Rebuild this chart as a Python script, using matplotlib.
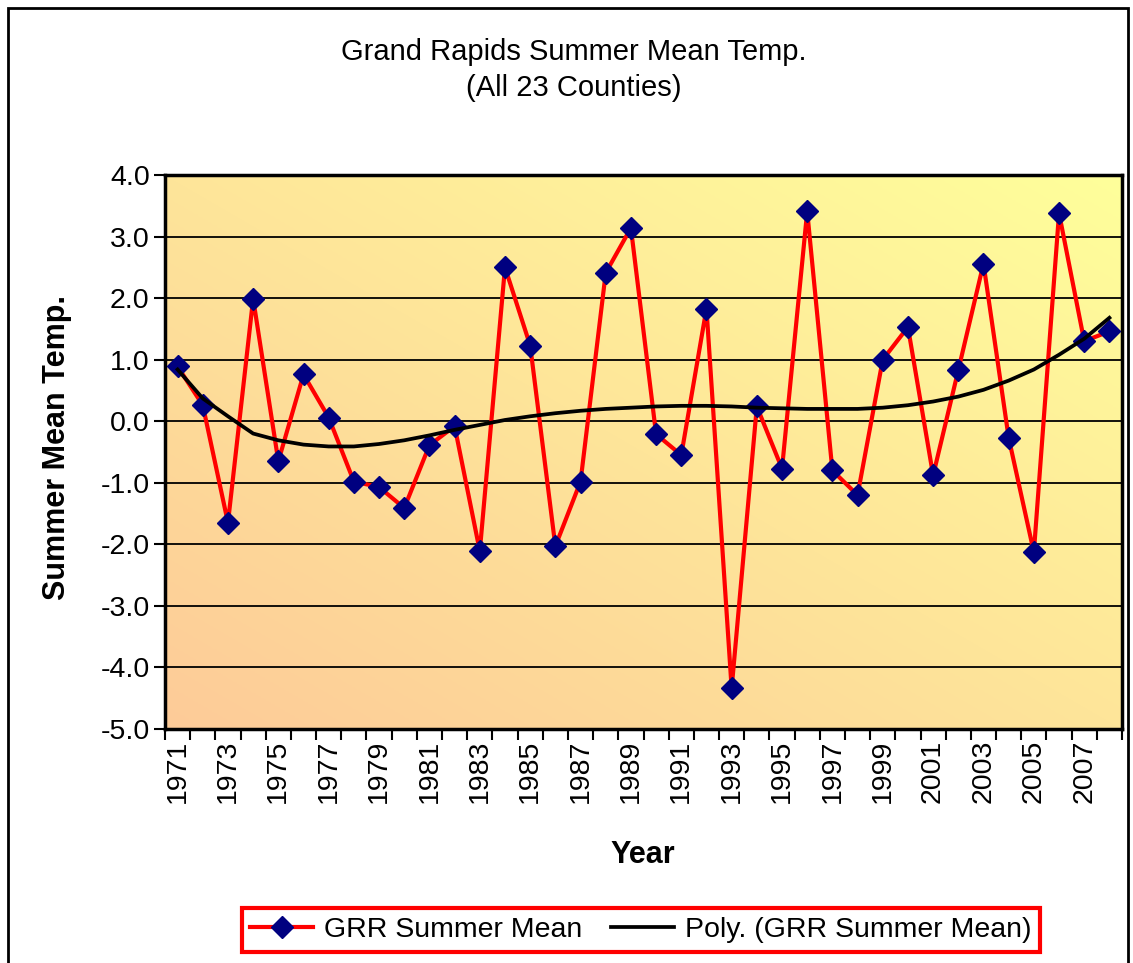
import numpy as np
import matplotlib
matplotlib.use("Agg")
import matplotlib.pyplot as plt
from matplotlib.patches import Rectangle

plt.rcParams['font.family'] = ['Liberation Sans', 'DejaVu Sans']

years = list(range(1971, 2009))
temps = [0.89, 0.26, -1.65, 1.99, -0.65, 0.76, 0.06, -0.98, -1.07, -1.41,
         -0.39, -0.08, -2.11, 2.50, 1.23, -2.03, -0.98, 2.41, 3.14, -0.21,
         -0.55, 1.83, -4.34, 0.24, -0.77, 3.41, -0.80, -1.20, 1.00, 1.53,
         -0.88, 0.83, 2.56, -0.27, -2.13, 3.38, 1.30, 1.46]
trend = [0.84, 0.37, 0.08, -0.20, -0.31, -0.38, -0.41, -0.41, -0.37, -0.31,
         -0.23, -0.14, -0.06, 0.02, 0.08, 0.13, 0.17, 0.20, 0.22, 0.24,
         0.25, 0.25, 0.24, 0.22, 0.21, 0.20, 0.20, 0.20, 0.22, 0.26,
         0.32, 0.40, 0.51, 0.66, 0.84, 1.08, 1.34, 1.68]
year_labels = [str(y) for y in years[::2]]

W, H = 1133, 963
fig = plt.figure(figsize=(W / 100, H / 100), dpi=100)
ax = fig.add_axes([165 / W, 1 - 729 / H, (1122 - 165) / W, (729 - 175) / H])

# diagonal gradient background
c0 = np.array([253, 203, 152]) / 255
c1 = np.array([255, 255, 155]) / 255
gx, gy = np.meshgrid(np.linspace(0, 1, 200), np.linspace(0, 1, 200))
t = ((gx + gy) / 2)[..., None]
grad = c0 * (1 - t) + c1 * t
ax.imshow(grad, extent=[0, 1, 0, 1], transform=ax.transAxes, origin='lower',
          aspect='auto', zorder=-1)

x = np.arange(len(years))
ax.plot(x, temps, color='#FF0000', lw=3, marker='D', ms=11,
        mfc='#000080', mec='#000080', label='GRR Summer Mean', zorder=3)
ax.plot(x, trend, color='black', lw=2.7, label='Poly. (GRR Summer Mean)', zorder=4)

ax.set_xlim(-0.5, len(years) - 0.5)
ax.set_ylim(-5, 4)
ax.set_yticks(np.arange(-5, 5, 1))
ax.set_yticklabels(['%.1f' % v for v in np.arange(-5, 5, 1)])
ax.yaxis.grid(True, color='black', lw=1.3)
ax.set_axisbelow(True)

ax.set_xticks(x[::2])
ax.set_xticklabels(year_labels, rotation=90)
ax.set_xticks(np.arange(-0.5, len(years), 1), minor=True)
ax.tick_params(axis='x', which='major', length=0, pad=8, labelsize=20.5)
ax.tick_params(axis='x', which='minor', length=8, width=1.5, direction='out')
ax.tick_params(axis='y', length=8, width=1.5, direction='out', pad=3, labelsize=20.5)

for s in ax.spines.values():
    s.set_linewidth(2.5)
    s.set_color('black')

fig.text(643 / W, 1 - 855 / H, 'Year', ha='center', va='center',
         fontsize=22, fontweight='bold')
fig.text(57 / W, 1 - 447 / H, 'Summer Mean Temp.', ha='center', va='center',
         rotation=90, fontsize=22, fontweight='bold')
fig.text(574 / W, 1 - 52 / H, 'Grand Rapids Summer Mean Temp.', ha='center',
         va='center', fontsize=21)
fig.text(574 / W, 1 - 88 / H, '(All 23 Counties)', ha='center', va='center',
         fontsize=21)

leg = fig.legend(loc='center', bbox_to_anchor=(641 / W, 1 - 930 / H), ncol=2,
                 fontsize=20.5, fancybox=False, framealpha=1, handlelength=2.2,
                 columnspacing=1.0, handletextpad=0.4, borderpad=0.3)
leg.get_frame().set_edgecolor('#FF0000')
leg.get_frame().set_linewidth(3)

fig.patches.append(Rectangle((8 / W, -0.1), (1128 - 8) / W, 1.1 - 8 / H,
                             transform=fig.transFigure, fill=False,
                             edgecolor='black', lw=2))

fig.savefig('out.png', dpi=100)
